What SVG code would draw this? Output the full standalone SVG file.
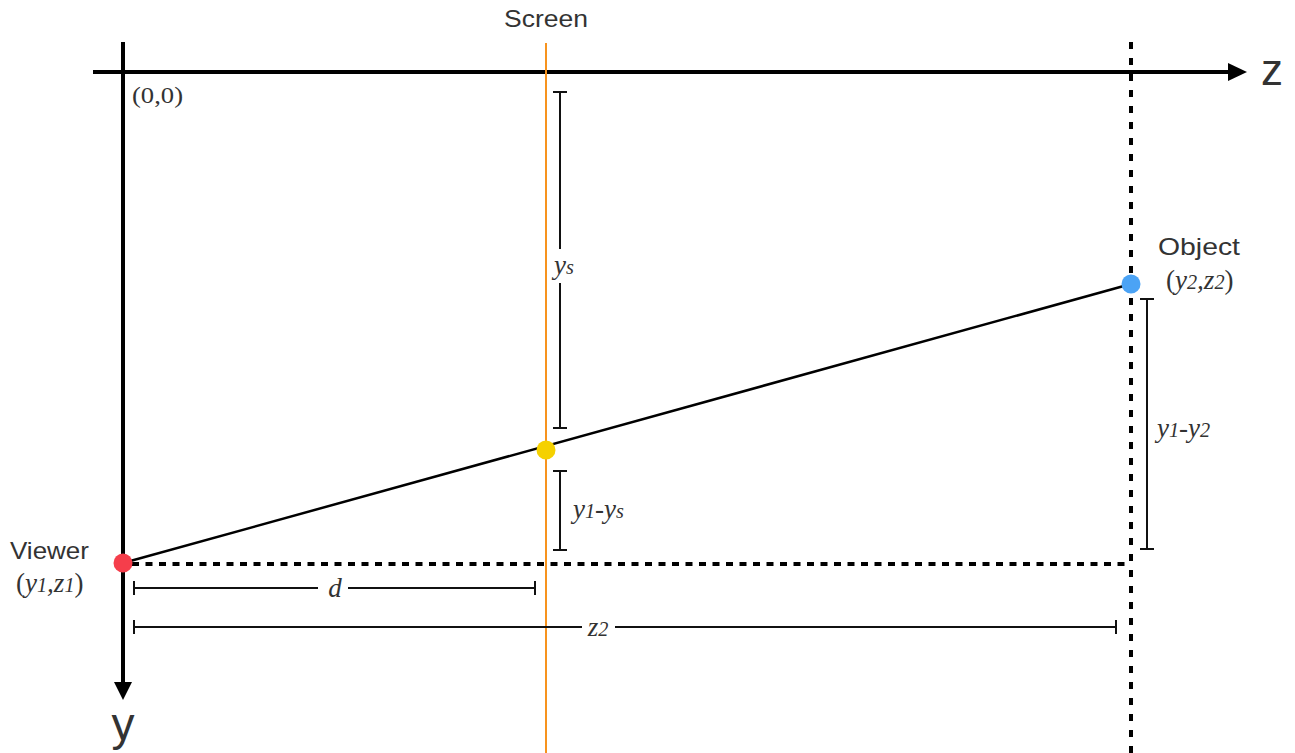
<svg xmlns="http://www.w3.org/2000/svg" width="1295" height="753" viewBox="0 0 1295 753">
<style>
.axis{stroke:#000;stroke-width:4;fill:none}
.dash{stroke:#000;stroke-width:4;fill:none}
.dim{stroke:#111;stroke-width:2;fill:none}
.ray{stroke:#000;stroke-width:2.5;fill:none}
.sans{font-family:"Liberation Sans","Helvetica Neue",Arial,sans-serif;fill:#333;font-weight:300}
.serif{font-family:"Liberation Serif","Times New Roman",serif;fill:#333}
.it{font-style:italic}
.sub{font-size:0.75em}
</style>
<rect width="1295" height="753" fill="#fff"/>
<g id="axes">
<line class="axis" x1="123" y1="42" x2="123" y2="684"/>
<polygon points="114,682 132,682 123,700" fill="#000"/>
<line class="axis" x1="93" y1="72" x2="1230" y2="72"/>
<polygon points="1228,63 1247,72 1228,81" fill="#000"/>
<text class="sans" x="1261" y="85" font-size="44">z</text>
<text class="sans" x="123" y="740" font-size="46" text-anchor="middle">y</text>
<text class="serif" x="132" y="103" font-size="24" textLength="51" lengthAdjust="spacingAndGlyphs">(0,0)</text>
</g>
<g id="screen">
<line x1="546" y1="43" x2="546" y2="753" stroke="#F7931E" stroke-width="2"/>
<text class="sans" x="546" y="27" font-size="23" text-anchor="middle" textLength="84" lengthAdjust="spacingAndGlyphs">Screen</text>
</g>
<g id="connectors">
<line class="dash" x1="1131" y1="42" x2="1131" y2="753" stroke-dasharray="7 9"/>
<line class="dash" x1="132" y1="564" x2="1131" y2="564" stroke-dasharray="7 6.5"/>
<line class="ray" x1="123" y1="563" x2="1131" y2="284"/>
</g>
<g id="dim-ys">
<path class="dim" d="M553 92H567M560 92V249M560 283V428M553 428H567"/>
<text class="serif it" x="554" y="274" font-size="27">y<tspan class="sub">s</tspan></text>
</g>
<g id="dim-y1-ys">
<path class="dim" d="M553 471H567M560 471V550M553 550H567"/>
<text class="serif it" x="573" y="518" font-size="27">y<tspan class="sub">1</tspan>-y<tspan class="sub">s</tspan></text>
</g>
<g id="dim-y1-y2">
<path class="dim" d="M1140 299H1154M1147 299V549M1140 549H1154"/>
<text class="serif it" x="1157" y="437" font-size="27">y<tspan class="sub">1</tspan>-y<tspan class="sub">2</tspan></text>
</g>
<g id="dim-d">
<path class="dim" d="M134 581V595M134 588H318M348 588H535M535 581V595"/>
<text class="serif it" x="335" y="597" font-size="27" text-anchor="middle">d</text>
</g>
<g id="dim-z2">
<path class="dim" d="M134 620V634M134 627H582M615 627H1116M1116 620V634"/>
<text class="serif it" x="598" y="636" font-size="27" text-anchor="middle">z<tspan class="sub">2</tspan></text>
</g>
<g id="viewer">
<circle cx="123" cy="563" r="9.5" fill="#F53E4B"/>
<text class="sans" x="10" y="559" font-size="24" textLength="79" lengthAdjust="spacingAndGlyphs">Viewer</text>
<text class="serif" x="16" y="592" font-size="27">(<tspan class="it">y<tspan class="sub">1</tspan>,z<tspan class="sub">1</tspan></tspan>)</text>
</g>
<g id="intersection">
<circle cx="546" cy="450" r="9.5" fill="#F5D100"/>
</g>
<g id="object">
<circle cx="1131" cy="284" r="9.5" fill="#4BA3F5"/>
<text class="sans" x="1158" y="255" font-size="24" textLength="82" lengthAdjust="spacingAndGlyphs">Object</text>
<text class="serif" x="1166" y="289" font-size="27">(<tspan class="it">y<tspan class="sub">2</tspan>,z<tspan class="sub">2</tspan></tspan>)</text>
</g>
</svg>
